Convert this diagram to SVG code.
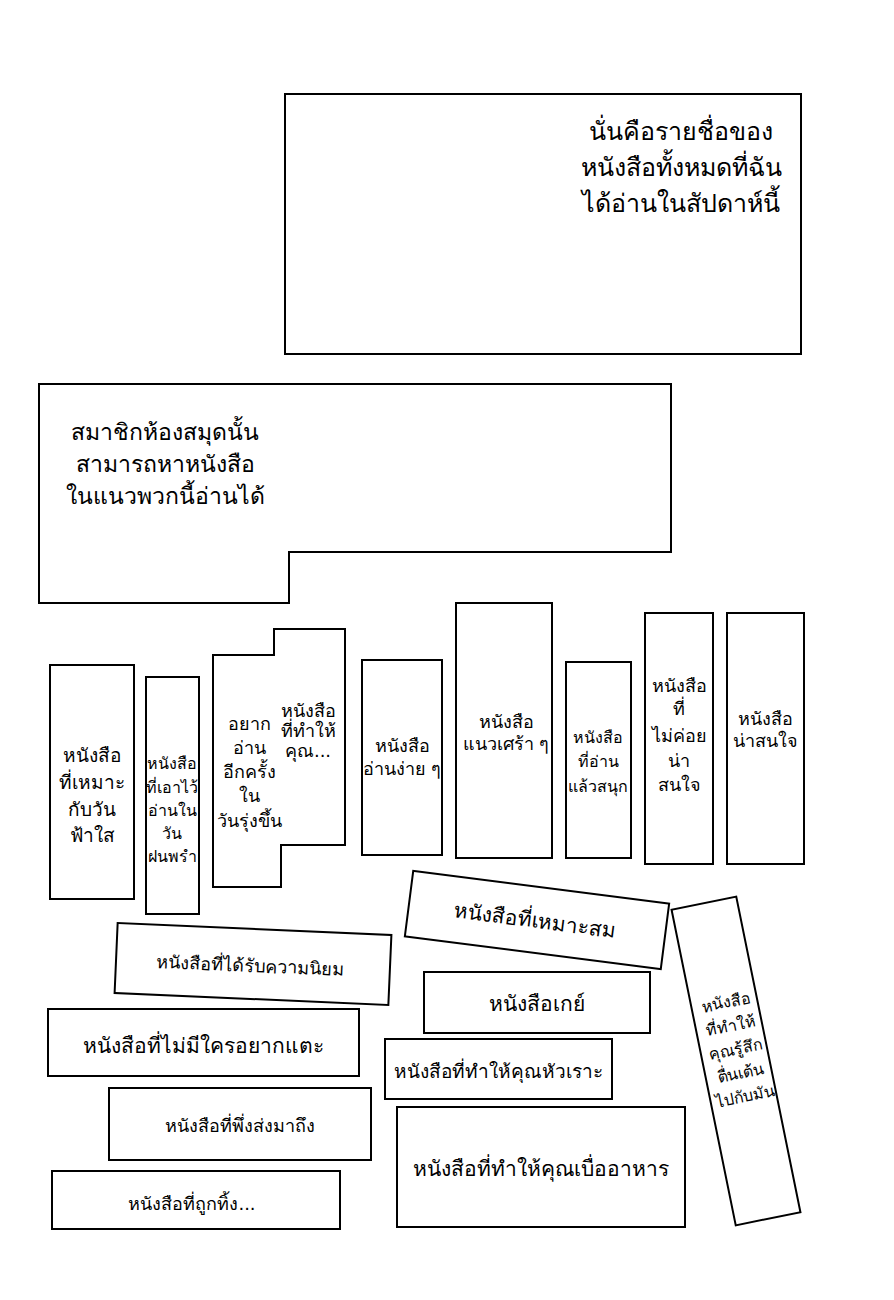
<svg xmlns="http://www.w3.org/2000/svg" width="894" height="1300" viewBox="0 0 894 1300">
<style>
.b{fill:#fff;stroke:#000;stroke-width:2}
text{font-family:"DejaVu Sans","Noto Sans",sans-serif;fill:#000;text-anchor:middle}
.f26{font-size:25px}.f24{font-size:23px}.f22{font-size:21px}.f20{font-size:19px}.f18{font-size:18px}.f17{font-size:16px}
</style>
<rect width="894" height="1300" fill="#fff"/>
<g id="intro">
<rect class="b" x="285" y="94" width="516" height="260"/>
<text class="f26" x="681" y="140">นั่นคือรายชื่อของ</text>
<text class="f26" x="681" y="176">หนังสือทั้งหมดที่ฉัน</text>
<text class="f26" x="681" y="212">ได้อ่านในสัปดาห์นี้</text>
</g>
<g id="members">
<polygon class="b" points="39,384 671,384 671,552 289,552 289,603 39,603"/>
<text class="f24" x="165" y="440">สมาชิกห้องสมุดนั้น</text>
<text class="f24" x="165" y="472">สามารถหาหนังสือ</text>
<text class="f24" x="165" y="504">ในแนวพวกนี้อ่านได้</text>
</g>
<g id="sunny">
<rect class="b" x="50" y="665" width="84" height="234"/>
<text class="f20" x="92" y="762">หนังสือ</text>
<text class="f20" x="92" y="789">ที่เหมาะ</text>
<text class="f20" x="92" y="816">กับวัน</text>
<text class="f20" x="92" y="842">ฟ้าใส</text>
</g>
<g id="rainy">
<rect class="b" x="146" y="677" width="53" height="237"/>
<text class="f17" x="172" y="769">หนังสือ</text>
<text class="f17" x="172" y="793">ที่เอาไว้</text>
<text class="f17" x="172" y="816">อ่านใน</text>
<text class="f17" x="172" y="839">วัน</text>
<text class="f17" x="172" y="862">ฝนพรำ</text>
</g>
<g id="reread">
<polygon class="b" points="213,655 274,655 274,629 345,629 345,845 281,845 281,887 213,887"/>
<text class="f18" x="249" y="730">อยาก</text>
<text class="f18" x="249" y="754">อ่าน</text>
<text class="f18" x="249" y="778">อีกครั้ง</text>
<text class="f18" x="249" y="802">ใน</text>
<text class="f18" x="249" y="827">วันรุ่งขึ้น</text>
<text class="f18" x="308" y="717">หนังสือ</text>
<text class="f18" x="308" y="737">ที่ทำให้</text>
<text class="f18" x="308" y="757">คุณ...</text>
</g>
<g id="easy">
<rect class="b" x="362" y="660" width="80" height="195"/>
<text class="f18" x="402" y="752">หนังสือ</text>
<text class="f18" x="402" y="775">อ่านง่าย ๆ</text>
</g>
<g id="sad">
<rect class="b" x="456" y="603" width="96" height="255"/>
<text class="f18" x="506" y="728">หนังสือ</text>
<text class="f18" x="506" y="750">แนวเศร้า ๆ</text>
</g>
<g id="fun">
<rect class="b" x="566" y="662" width="65" height="196"/>
<text class="f17" x="598" y="743">หนังสือ</text>
<text class="f17" x="598" y="767">ที่อ่าน</text>
<text class="f17" x="598" y="792">แล้วสนุก</text>
</g>
<g id="boring">
<rect class="b" x="645" y="613" width="68" height="251"/>
<text class="f18" x="679" y="692">หนังสือ</text>
<text class="f18" x="679" y="715">ที่</text>
<text class="f18" x="679" y="742">ไม่ค่อย</text>
<text class="f18" x="679" y="767">น่า</text>
<text class="f18" x="679" y="791">สนใจ</text>
</g>
<g id="interesting">
<rect class="b" x="727" y="613" width="77" height="251"/>
<text class="f18" x="765" y="725">หนังสือ</text>
<text class="f18" x="765" y="747">น่าสนใจ</text>
</g>
<g id="suitable" transform="translate(537,920) rotate(7.3)">
<rect class="b" x="-129" y="-33" width="258" height="66"/>
<text class="f22" x="-2" y="8">หนังสือที่เหมาะสม</text>
</g>
<g id="exciting" transform="translate(736,1061) rotate(-11.5)">
<rect class="b" x="-33" y="-161" width="66" height="322"/>
<text class="f17" x="2" y="-54">หนังสือ</text>
<text class="f17" x="2" y="-30">ที่ทำให้</text>
<text class="f17" x="2" y="-6">คุณรู้สึก</text>
<text class="f17" x="2" y="18">ตื่นเต้น</text>
<text class="f17" x="2" y="42">ไปกับมัน</text>
</g>
<g id="popular" transform="translate(253,964) rotate(2.5)">
<rect class="b" x="-137" y="-35" width="274" height="70"/>
<text class="f18" x="-3" y="8">หนังสือที่ได้รับความนิยม</text>
</g>
<g id="gay">
<rect class="b" x="424" y="972" width="226" height="61"/>
<text class="f22" x="537" y="1011">หนังสือเกย์</text>
</g>
<g id="untouched">
<rect class="b" x="48" y="1009" width="311" height="67"/>
<text class="f22" x="203" y="1053">หนังสือที่ไม่มีใครอยากแตะ</text>
</g>
<g id="laugh">
<rect class="b" x="385" y="1039" width="227" height="60"/>
<text class="f20" x="498" y="1078">หนังสือที่ทำให้คุณหัวเราะ</text>
</g>
<g id="arrived">
<rect class="b" x="109" y="1088" width="262" height="72"/>
<text class="f18" x="240" y="1132">หนังสือที่พึ่งส่งมาถึง</text>
</g>
<g id="appetite">
<rect class="b" x="397" y="1107" width="288" height="120"/>
<text class="f22" x="541" y="1176">หนังสือที่ทำให้คุณเบื่ออาหาร</text>
</g>
<g id="discarded">
<rect class="b" x="52" y="1171" width="288" height="58"/>
<text class="f18" x="192" y="1210">หนังสือที่ถูกทิ้ง...</text>
</g>
<g id="connectors"></g>
</svg>
